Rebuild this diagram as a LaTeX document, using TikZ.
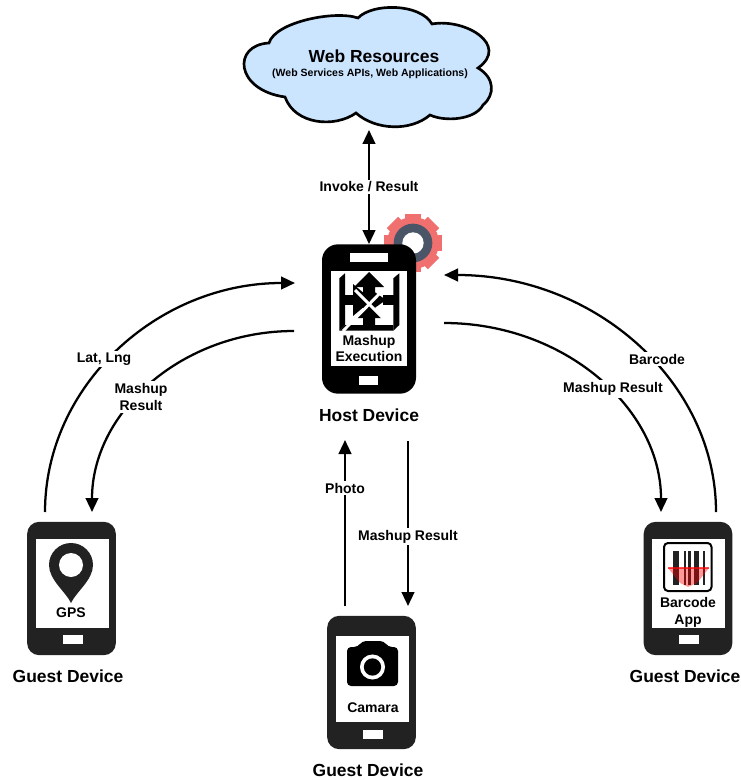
\documentclass[tikz,border=0pt]{standalone}
\usepackage{fontspec}
\setmainfont{Liberation Sans}
\usetikzlibrary{arrows.meta,positioning,calc}

\definecolor{cloudblue}{HTML}{CCE5FF}
\definecolor{gearred}{HTML}{F07070}
\definecolor{gearslate}{HTML}{4A5568}
\definecolor{guestgrey}{HTML}{222222}

\begin{document}
\begin{tikzpicture}[
    x=0.75pt, y=-0.75pt,
    body/.style={rectangle, fill=black, rounded corners=9pt, inner sep=0pt, minimum width=66.5pt, minimum height=100pt},
    guestbody/.style={body, fill=guestgrey},
    screen/.style={rectangle, fill=white, inner sep=0pt, minimum width=54.5pt, minimum height=66.5pt},
    slot/.style={rectangle, fill=white, inner sep=0pt, minimum width=14.5pt, minimum height=7pt},
    applabel/.style={font=\bfseries\fontsize{10.5}{12.6}\selectfont, align=center, inner sep=0pt},
    caption/.style={font=\bfseries\fontsize{13.1}{15}\selectfont, inner sep=0pt},
    linklabel/.style={font=\bfseries\fontsize{10.5}{12.6}\selectfont, align=center, fill=white, inner sep=1.5pt},
    arrow/.style={-{Triangle[length=10.5pt,width=9.5pt]}, line width=1.7pt}
]
    \useasboundingbox (0,0) rectangle (740,780);

    % Cloud
    \draw[fill=cloudblue, line width=2pt] (269,43)
        .. controls (275,22) and (335,10) .. (358,18)
        .. controls (372,3) and (420,3) .. (432,24)
        .. controls (465,18) and (510,45) .. (478,68)
        .. controls (495,78) and (495,95) .. (483,105)
        .. controls (475,120) and (445,122) .. (430,115)
        .. controls (410,132) and (375,130) .. (356,113)
        .. controls (335,128) and (295,125) .. (285,97)
        .. controls (235,90) and (232,45) .. (269,43) -- cycle;
    \node[caption] (webtitle) at (374,56) {Web Resources};
    \node[font=\bfseries\fontsize{7.9}{9}\selectfont, inner sep=0pt] (websub) at (370,74) {(Web Services APIs, Web Applications)};
    \coordinate (cloudend) at (369,130);

    % Gear
    \foreach \a in {0,45,...,315}
        \fill[gearred, rotate around={\a:(413,243)}] (405,214) rectangle (421,226);
    \fill[gearred] (413,243) circle (19.5pt);
    \fill[gearslate] (413,243) circle (14.5pt);
    \fill[white] (413,243) circle (8pt);

    % Host phone
    \node[body, rounded corners=12pt, minimum width=70.5pt, minimum height=112pt] (hostbody) at (369,319) {};
    \node[screen, minimum width=57pt, minimum height=71pt] (hostscreen) at (369,318.5) {};
    \node[slot, minimum width=28.5pt] (hostspeaker) at (369,257.5) {};
    \node[slot] (hostslot) at (368.5,380.5) {};
    \node[applabel] (hosttext) at (369,348.5) {Mashup\\Execution};
    \node[caption] (hostcaption) at (369,415) {Host Device};

    % Mashup icon
    \fill (339.3,278.3) -- (345,273.3) -- (345,325) -- (339.3,330.7) -- cycle;
    \fill (393.3,278.3) -- (399.3,273.3) -- (399.3,325) -- (393.3,330.7) -- cycle;
    \fill (345,325) -- (393.3,325) -- (393.3,330.7) -- (339.3,330.7) -- cycle;
    \fill (354,287) -- (369,272) -- (384,287) -- (375,287) -- (375,325) -- (363,325) -- (363,287) -- cycle;
    \fill (354,318) -- (369,306) -- (384,318) -- cycle;
    \fill (345,295) rectangle (356,305);
    \fill (353,284) -- (372,300) -- (353,316) -- cycle;
    \fill (366,286) -- (386,300) -- (366,314) -- cycle;
    \fill (383,295) rectangle (394,305);
    \draw[white, line width=2.2pt] (355,290) -- (384,319);
    \draw[white, line width=2.2pt] (384,289) -- (343,331);

    % GPS phone
    \node[guestbody] (gpsbody) at (71.5,588.5) {};
    \node[screen] (gpsscreen) at (72.5,583.5) {};
    \node[slot] (gpsslot) at (73,639.5) {};
    \fill[guestgrey] (71,603) .. controls (66,592) and (49,580) .. (49,565)
        arc[start angle=180, end angle=360, radius=22] .. controls (93,580) and (76,592) .. (71,603) -- cycle;
    \fill[white] (71,565) circle (9pt);
    \node[applabel] (gpstext) at (71,613) {GPS};
    \node[caption] (gpscaption) at (68,676) {Guest Device};

    % Camera phone
    \node[guestbody] (camerabody) at (371.5,682.5) {};
    \node[screen, minimum height=65pt] (camerascreen) at (372.5,679) {};
    \node[slot] (cameraslot) at (373,734.5) {};
    \fill[black, rounded corners=3pt] (347,647) -- (358,647) -- (362,641) -- (384,641) -- (388,647) -- (398,647) -- (398,686) -- (347,686) -- cycle;
    \fill[white] (372.5,667) circle (9.4pt);
    \fill[black] (372.5,667) circle (6.5pt);
    \node[applabel] (cameratext) at (373,708) {Camara};
    \node[caption] (cameracaption) at (368,770) {Guest Device};

    % Barcode phone
    \node[guestbody] (barcodebody) at (688,588.5) {};
    \node[screen] (barcodescreen) at (688.5,583.5) {};
    \node[slot] (barcodeslot) at (689,639.5) {};
    \draw[black, line width=1.5pt, rounded corners=3pt, fill=white] (664,543) rectangle (711.5,591);
    \foreach \xa/\xb in {673/679, 683.5/685.5, 688/691, 693.5/699, 703/705}
        \fill[guestgrey] (\xa,551) rectangle (\xb,585);
    \fill[red, opacity=0.4] (668,568) -- (709,568) -- (697,583) -- (688,587) -- (680,583) -- cycle;
    \draw[red, opacity=0.7, line width=1.5pt] (668,568) -- (709,568);
    \node[applabel] (barcodetext) at (688,612.5) {Barcode\\App};
    \node[caption] (barcodecaption) at (685,676) {Guest Device};

    % End points of the connectors
    \coordinate (latstart) at (45,512);
    \coordinate (latend) at (295,283);
    \coordinate (leftstart) at (294,331);
    \coordinate (leftend) at (92,512);
    \coordinate (barstart) at (716,512);
    \coordinate (barend) at (444,275);
    \coordinate (rightstart) at (444,323);
    \coordinate (rightend) at (661,512);
    \coordinate (photostart) at (345,606);
    \coordinate (photoend) at (345,440);
    \coordinate (resultstart) at (408,441);
    \coordinate (resultend) at (408,606);

    % Arrows
    \draw[arrow, {Triangle[length=10.5pt,width=9.5pt]}-{Triangle[length=10.5pt,width=9.5pt]}] (cloudend) -- (hostbody.north);
    \draw[arrow] (latstart) .. controls (45,386) and (157,283) .. (latend);
    \draw[arrow] (leftstart) .. controls (182,331) and (92,412) .. (leftend);
    \draw[arrow] (barstart) .. controls (716,382) and (595,275) .. (barend);
    \draw[arrow] (rightstart) .. controls (564,323) and (661,408) .. (rightend);
    \draw[arrow] (photostart) -- (photoend);
    \draw[arrow] (resultstart) -- (resultend);

    % Labels
    \node[linklabel] (invokelabel) at (369,187) {Invoke / Result};
    \node[linklabel] (latlabel) at (104,359) {Lat, Lng};
    \node[linklabel] (leftlabel) at (141,397) {Mashup\\Result};
    \node[linklabel] (barlabel) at (657,359) {Barcode};
    \node[linklabel] (rightlabel) at (613,389) {Mashup Result};
    \node[linklabel] (photolabel) at (345,488) {Photo};
    \node[linklabel] (resultlabel) at (408,536.5) {Mashup Result};
\end{tikzpicture}
\end{document}
